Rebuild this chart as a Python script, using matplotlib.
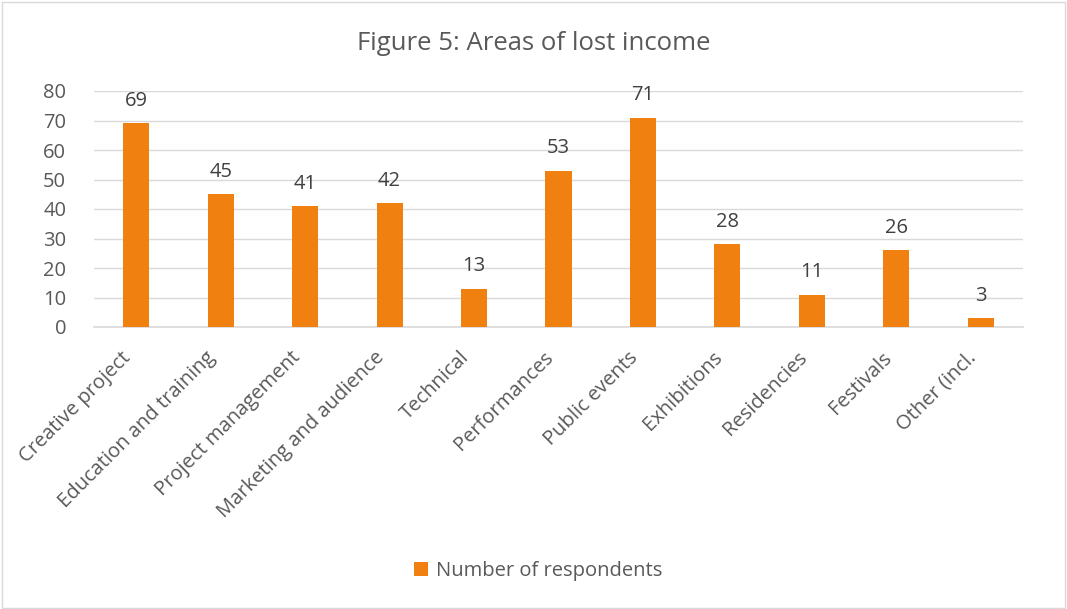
import matplotlib

matplotlib.use("Agg")
import matplotlib.pyplot as plt
import matplotlib.transforms as mtransforms
from matplotlib.patches import Rectangle

categories = [
    "Creative project", "Education and training", "Project management",
    "Marketing and audience", "Technical", "Performances", "Public events",
    "Exhibitions", "Residencies", "Festivals", "Other (incl.",
]
respondents = [69, 45, 41, 42, 13, 53, 71, 28, 11, 26, 3]
y_ticks = [0, 10, 20, 30, 40, 50, 60, 70, 80]

ORANGE = "#F0800F"
TEXT = "#595959"
GRID = "#D9D9D9"

plt.rcParams["font.family"] = ["Open Sans", "DejaVu Sans"]

fig = plt.figure(figsize=(10.67, 6.09), dpi=100)
ax = fig.add_axes([94 / 1067, 1 - 327 / 609, (1023 - 94) / 1067, (327 - 91) / 609])

x = range(len(categories))
bars = ax.bar(x, respondents, width=0.31, color=ORANGE, label="Number of respondents", zorder=3)

for b, v in zip(bars, respondents):
    ax.annotate(str(v), (b.get_x() + b.get_width() / 2, v), xytext=(0, 9),
                textcoords="offset points", ha="center", va="bottom",
                fontsize=14.5, color="#404040")

ax.set_xlim(-0.5, len(categories) - 0.5)
ax.set_ylim(0, 80)
ax.set_yticks(y_ticks)
ax.tick_params(axis="y", length=0, labelsize=14.5, labelcolor=TEXT, pad=20)
ax.set_xticks(list(x))
ax.set_xticklabels(categories, rotation=45, ha="right", va="center",
                   rotation_mode="anchor", fontsize=14.5, color=TEXT)
ax.tick_params(axis="x", length=0, pad=20)
# nudge rotated labels so they end right under the bar centres
shift = mtransforms.ScaledTranslation(-8 / 100, 0, fig.dpi_scale_trans)
for lbl in ax.get_xticklabels():
    lbl.set_transform(lbl.get_transform() + shift)
ax.grid(axis="y", color=GRID, linewidth=1, zorder=0)
for s in ["top", "right", "left"]:
    ax.spines[s].set_visible(False)
ax.spines["bottom"].set_color(GRID)
ax.spines["bottom"].set_linewidth(1.2)

fig.text(534 / 1067, 1 - 43 / 609, "Figure 5: Areas of lost income",
         ha="center", va="center", fontsize=18.5, color=TEXT)

fig.legend(loc="center", bbox_to_anchor=(538 / 1067, 1 - 571 / 609), frameon=False,
           fontsize=14.5, labelcolor=TEXT, handlelength=0.7, handleheight=0.7,
           handletextpad=0.4)

# light outer frame
fig.patches.append(Rectangle((0.002, 0.002), 0.996, 0.994, transform=fig.transFigure,
                             fill=False, edgecolor="#D9D9D9", linewidth=1))

fig.savefig("out.png", dpi=100)
